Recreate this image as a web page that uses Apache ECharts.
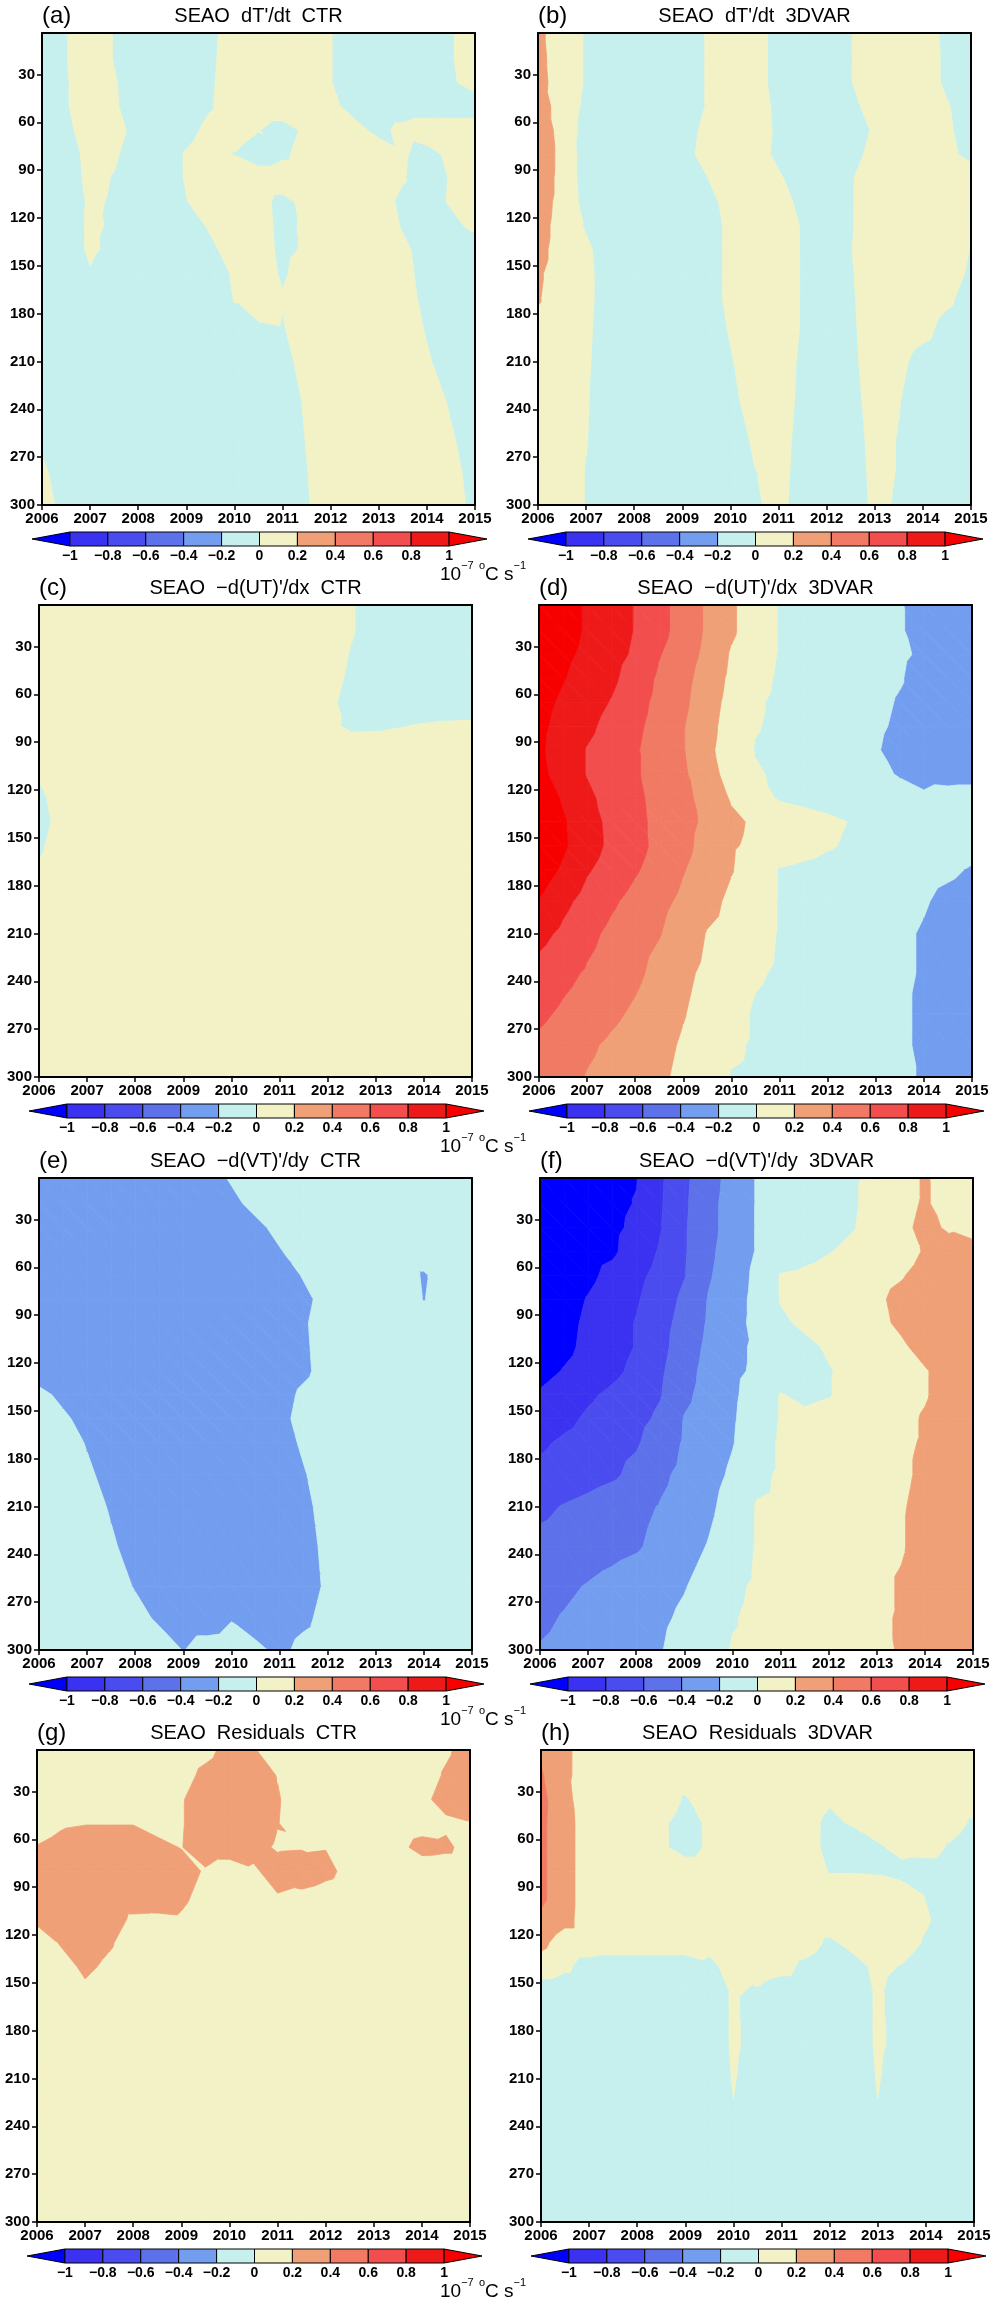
<!DOCTYPE html>
<html>
<head>
<meta charset="utf-8">
<title>SEAO temperature budget</title>
<script src="https://cdn.jsdelivr.net/npm/echarts@6/dist/echarts.min.js"></script>
<style>
  html, body { margin: 0; padding: 0; background: #fff; }
  #chart { width: 996px; height: 2300px; }
</style>
</head>
<body>
<div id="chart"></div>
<script>
// grid of the fields: time (years) x depth (m)
var years = [2006, 2006.5, 2007, 2007.5, 2008, 2008.5, 2009, 2009.5, 2010, 2010.5, 2011, 2011.5, 2012, 2012.5, 2013, 2013.5, 2014, 2014.5, 2015];
var depths = [4, 20, 35, 50, 65, 80, 95, 110, 125, 140, 155, 170, 190, 210, 235, 260, 280, 300];
var depthTicks = [30, 60, 90, 120, 150, 180, 210, 240, 270, 300];

// contour levels (10^-7 degC/s) and fill colours (below -1 ... above 1)
var levels = [-1, -0.8, -0.6, -0.4, -0.2, 0, 0.2, 0.4, 0.6, 0.8, 1];
var bandColors = ['#0000ff', '#3a32f0', '#4a4cef', '#5d72ea', '#739ef0', '#c6f0ee', '#f2f2c6', '#f0a076', '#f07a64', '#f24e4e', '#ee1a1a', '#f70000'];

// (a) dT'/dt CTR, rows = depths, columns = years
var dTdtCTR = [
  [-.15,-.01,.14,-.01,-.15,-.15,-.15,-.05,.1,.15,.15,.15,.01,-.14,-.15,-.15,-.15,-.02,.13],
  [-.15,-.01,.14,-.01,-.15,-.15,-.15,-.04,.11,.15,.15,.15,.01,-.15,-.15,-.15,-.15,-.02,.13],
  [-.15,-.02,.14,.02,-.13,-.15,-.15,-.03,.12,.15,.15,.15,.01,-.15,-.15,-.15,-.15,-.04,.11],
  [-.15,-.02,.14,.03,-.12,-.15,-.15,-.02,.13,.15,.15,.15,.06,-.09,-.15,-.15,-.15,-.15,-.15],
  [-.15,-.05,.1,.08,-.08,-.15,-.08,.07,.14,.01,-.1,.05,.15,.08,-.07,.07,.15,.15,.15],
  [-.15,-.09,.06,.03,-.12,-.13,.02,.14,-.01,-.15,-.05,.1,.15,.15,.15,.03,-.09,.06,.15],
  [-.15,-.1,.05,-.01,-.15,-.13,.02,.15,.15,.15,.15,.15,.15,.15,.15,.02,-.13,.02,.15],
  [-.15,-.12,.03,-.02,-.15,-.15,-.01,.14,.15,.08,-.07,.07,.15,.15,.1,-.05,-.12,.03,.15],
  [-.15,-.13,.04,-.03,-.15,-.15,-.12,.03,.15,.09,-.06,.04,.15,.15,.13,-.02,-.15,-.08,.07],
  [-.15,-.14,.04,-.06,-.15,-.15,-.15,-.05,.1,.1,-.05,.03,.15,.15,.15,.05,-.1,-.15,-.15],
  [-.15,-.15,-.02,-.15,-.15,-.15,-.15,-.12,.03,.12,-.03,.1,.15,.15,.15,.07,-.08,-.15,-.15],
  [-.15,-.15,-.15,-.15,-.15,-.15,-.15,-.15,.01,.15,.02,.15,.15,.15,.15,.09,-.06,-.15,-.15],
  [-.15,-.15,-.15,-.15,-.15,-.15,-.15,-.15,-.05,-.05,-.02,.14,.15,.15,.15,.13,-.02,-.15,-.15],
  [-.15,-.15,-.15,-.15,-.15,-.15,-.15,-.15,-.15,-.15,-.07,.08,.15,.15,.15,.15,.03,-.12,-.15],
  [-.15,-.15,-.15,-.15,-.15,-.15,-.15,-.15,-.15,-.15,-.12,.03,.15,.15,.15,.15,.12,-.03,-.15],
  [-.03,-.15,-.15,-.15,-.15,-.15,-.15,-.15,-.15,-.15,-.15,.01,.15,.15,.15,.15,.15,.03,-.12],
  [.04,-.11,-.15,-.15,-.15,-.15,-.15,-.15,-.15,-.15,-.15,-.01,.15,.15,.15,.15,.15,.07,-.08],
  [.08,-.07,-.15,-.15,-.15,-.15,-.15,-.15,-.15,-.15,-.15,-.02,.13,.15,.15,.15,.15,.09,-.06]
];

// (b) dT'/dt 3DVAR
var dTdt3DVAR = [
  [.23,.13,-.02,-.15,-.15,-.15,-.14,.01,.15,.08,-.07,-.15,-.15,-.01,.15,.15,.1,-.05,-.15],
  [.24,.13,-.02,-.15,-.15,-.15,-.14,.01,.15,.08,-.07,-.15,-.15,-.01,.15,.15,.1,-.04,-.15],
  [.25,.13,-.02,-.15,-.15,-.15,-.14,.01,.15,.08,-.07,-.15,-.15,-.01,.15,.15,.11,-.04,-.15],
  [.29,.12,-.04,-.15,-.15,-.15,-.14,.01,.15,.1,-.05,-.15,-.15,-.06,.09,.15,.15,.02,-.13],
  [.34,.12,-.07,-.15,-.15,-.15,-.1,.05,.15,.11,-.04,-.15,-.15,-.12,.03,.15,.15,.04,-.11],
  [.34,.14,-.09,-.15,-.15,-.15,-.08,.07,.15,.1,-.05,-.15,-.15,-.08,.07,.15,.15,.07,-.08],
  [.32,.14,-.09,-.15,-.15,-.15,-.15,-.01,.14,.15,.03,-.12,-.13,-.02,.13,.15,.15,.15,.15],
  [.29,.14,-.07,-.15,-.15,-.15,-.15,-.08,.08,.15,.09,-.06,-.15,-.02,.13,.15,.15,.15,.15],
  [.27,.13,-.02,-.15,-.15,-.15,-.15,-.1,.05,.15,.13,-.02,-.15,-.02,.14,.15,.15,.15,.05],
  [.25,.13,.04,-.11,-.15,-.15,-.15,-.1,.05,.15,.14,-.02,-.14,-.01,.14,.15,.15,.14,-.01],
  [.22,.13,.05,-.1,-.15,-.15,-.15,-.1,.05,.15,.14,-.02,-.14,-.02,.13,.15,.15,.11,-.04],
  [.21,.13,.05,-.1,-.15,-.15,-.15,-.1,.05,.15,.13,-.02,-.14,-.03,.12,.15,.15,.05,-.1],
  [.17,.13,.04,-.11,-.15,-.15,-.15,-.13,.02,.15,.13,-.02,-.15,-.04,.11,.15,.07,-.08,-.15],
  [.15,.13,.03,-.12,-.15,-.15,-.15,-.15,-.02,.13,.11,-.04,-.15,-.05,.1,.06,-.09,-.15,-.15],
  [.15,.13,.02,-.14,-.15,-.15,-.15,-.15,-.06,.09,.1,-.05,-.15,-.07,.08,.01,-.14,-.15,-.15],
  [.15,.13,.01,-.15,-.15,-.15,-.15,-.15,-.12,.03,.08,-.07,-.15,-.09,.06,-.01,-.15,-.15,-.15],
  [.15,.13,-.01,-.15,-.15,-.15,-.15,-.15,-.15,-.01,.07,-.08,-.15,-.1,.05,-.01,-.15,-.15,-.15],
  [.15,.13,-.01,-.15,-.15,-.15,-.15,-.15,-.15,-.03,.06,-.09,-.15,-.11,.04,-.02,-.15,-.15,-.15]
];

// (c) -d(UT)'/dx CTR
var advUCTR = [
  [.15,.15,.15,.15,.15,.15,.15,.15,.15,.15,.15,.15,.15,.02,-.13,-.15,-.15,-.15,-.15],
  [.15,.15,.15,.15,.15,.15,.15,.15,.15,.15,.15,.15,.15,.02,-.13,-.15,-.15,-.15,-.15],
  [.15,.15,.15,.15,.15,.15,.15,.15,.15,.15,.15,.15,.13,-.02,-.15,-.15,-.15,-.15,-.15],
  [.15,.15,.15,.15,.15,.15,.15,.15,.15,.15,.15,.15,.1,-.05,-.15,-.15,-.15,-.15,-.15],
  [.15,.15,.15,.15,.15,.15,.15,.15,.15,.15,.15,.15,.06,-.09,-.15,-.15,-.15,-.15,-.15],
  [.15,.15,.15,.15,.15,.15,.15,.15,.15,.15,.15,.15,.06,-.05,-.04,-.01,.02,.04,.05],
  [.15,.15,.15,.15,.15,.15,.15,.15,.15,.15,.15,.15,.15,.15,.15,.15,.15,.15,.15],
  [.02,.15,.15,.15,.15,.15,.15,.15,.15,.15,.15,.15,.15,.15,.15,.15,.15,.15,.15],
  [-.05,.1,.15,.15,.15,.15,.15,.15,.15,.15,.15,.15,.15,.15,.15,.15,.15,.15,.15],
  [-.08,.08,.15,.15,.15,.15,.15,.15,.15,.15,.15,.15,.15,.15,.15,.15,.15,.15,.15],
  [-.04,.12,.15,.15,.15,.15,.15,.15,.15,.15,.15,.15,.15,.15,.15,.15,.15,.15,.15],
  [.03,.15,.15,.15,.15,.15,.15,.15,.15,.15,.15,.15,.15,.15,.15,.15,.15,.15,.15],
  [.15,.15,.15,.15,.15,.15,.15,.15,.15,.15,.15,.15,.15,.15,.15,.15,.15,.15,.15],
  [.15,.15,.15,.15,.15,.15,.15,.15,.15,.15,.15,.15,.15,.15,.15,.15,.15,.15,.15],
  [.15,.15,.15,.15,.15,.15,.15,.15,.15,.15,.15,.15,.15,.15,.15,.15,.15,.15,.15],
  [.15,.15,.15,.15,.15,.15,.15,.15,.15,.15,.15,.15,.15,.15,.15,.15,.15,.15,.15],
  [.15,.15,.15,.15,.15,.15,.15,.15,.15,.15,.15,.15,.15,.15,.15,.15,.15,.15,.15],
  [.15,.15,.15,.15,.15,.15,.15,.15,.15,.15,.15,.15,.15,.15,.15,.15,.15,.15,.15]
];

// (d) -d(UT)'/dx 3DVAR
var advU3DVAR = [
  [1.16,1.07,.98,.89,.79,.66,.52,.37,.23,.09,-.01,-.05,-.08,-.12,-.16,-.19,-.25,-.27,-.28],
  [1.16,1.07,.98,.89,.79,.66,.52,.37,.23,.09,-.01,-.05,-.08,-.12,-.15,-.19,-.24,-.27,-.28],
  [1.13,1.04,.96,.87,.77,.61,.49,.35,.18,.07,-.01,-.05,-.08,-.11,-.15,-.18,-.22,-.26,-.28],
  [1.1,1.01,.92,.84,.71,.57,.46,.31,.16,.05,-.02,-.05,-.09,-.12,-.16,-.19,-.25,-.27,-.28],
  [1.06,.97,.88,.79,.67,.55,.44,.28,.14,.02,-.03,-.06,-.1,-.13,-.17,-.21,-.25,-.27,-.28],
  [1.04,.94,.84,.74,.64,.53,.41,.26,.12,.01,-.03,-.07,-.11,-.14,-.18,-.22,-.26,-.27,-.28],
  [1.03,.91,.79,.71,.62,.51,.41,.24,.11,-.01,-.04,-.08,-.11,-.15,-.19,-.24,-.27,-.28,-.28],
  [1.05,.92,.79,.71,.62,.53,.43,.27,.13,.02,-.03,-.06,-.1,-.13,-.17,-.21,-.24,-.25,-.25],
  [1.11,.98,.84,.73,.64,.54,.45,.33,.18,.08,-.02,-.05,-.08,-.1,-.12,-.15,-.18,-.15,-.14],
  [1.16,1.02,.88,.75,.65,.55,.46,.36,.24,.17,.12,.08,.04,-.01,-.05,-.08,-.1,-.12,-.14],
  [1.18,1.03,.88,.76,.66,.55,.45,.33,.22,.16,.11,.07,.02,-.03,-.06,-.09,-.11,-.13,-.16],
  [1.11,.97,.82,.72,.62,.52,.41,.31,.21,.1,-.01,-.04,-.07,-.1,-.12,-.14,-.16,-.18,-.21],
  [.99,.85,.73,.63,.54,.45,.36,.26,.16,.08,-.01,-.03,-.07,-.1,-.13,-.16,-.19,-.23,-.25],
  [.86,.76,.65,.56,.48,.41,.3,.19,.13,.06,-.01,-.04,-.07,-.11,-.15,-.18,-.21,-.25,-.27],
  [.73,.65,.58,.51,.44,.34,.24,.16,.09,.02,-.02,-.05,-.08,-.12,-.15,-.18,-.21,-.25,-.27],
  [.64,.57,.51,.44,.37,.28,.21,.13,.06,-.02,-.05,-.07,-.1,-.13,-.16,-.18,-.22,-.25,-.27],
  [.56,.5,.43,.37,.31,.25,.18,.11,.03,-.02,-.05,-.08,-.11,-.13,-.16,-.18,-.22,-.25,-.27],
  [.5,.45,.39,.34,.28,.23,.16,.07,-.01,-.03,-.05,-.08,-.1,-.13,-.15,-.18,-.21,-.24,-.26]
];

// (e) -d(VT)'/dy CTR
var advVCTR = [
  [-.35,-.35,-.35,-.35,-.35,-.35,-.35,-.32,-.17,-.05,-.05,-.05,-.05,-.05,-.05,-.05,-.05,-.05,-.05],
  [-.35,-.35,-.35,-.35,-.35,-.35,-.35,-.35,-.27,-.12,-.05,-.05,-.05,-.05,-.05,-.05,-.05,-.05,-.05],
  [-.35,-.35,-.35,-.35,-.35,-.35,-.35,-.35,-.35,-.27,-.12,-.05,-.05,-.05,-.05,-.05,-.05,-.05,-.05],
  [-.35,-.35,-.35,-.35,-.35,-.35,-.35,-.35,-.35,-.35,-.22,-.07,-.05,-.05,-.05,-.05,-.05,-.05,-.05],
  [-.35,-.35,-.35,-.35,-.35,-.35,-.35,-.35,-.35,-.35,-.33,-.18,-.05,-.05,-.05,-.05,-.23,-.05,-.05],
  [-.35,-.35,-.35,-.35,-.35,-.35,-.35,-.35,-.35,-.35,-.35,-.26,-.11,-.05,-.05,-.05,-.21,-.05,-.05],
  [-.35,-.35,-.35,-.35,-.35,-.35,-.35,-.35,-.35,-.35,-.35,-.23,-.08,-.05,-.05,-.05,-.05,-.05,-.05],
  [-.35,-.35,-.35,-.35,-.35,-.35,-.35,-.35,-.35,-.35,-.35,-.24,-.09,-.05,-.05,-.05,-.05,-.05,-.05],
  [-.35,-.35,-.35,-.35,-.35,-.35,-.35,-.35,-.35,-.35,-.35,-.25,-.1,-.05,-.05,-.05,-.05,-.05,-.05],
  [-.12,-.27,-.35,-.35,-.35,-.35,-.35,-.35,-.35,-.35,-.3,-.15,-.05,-.05,-.05,-.05,-.05,-.05,-.05],
  [-.05,-.15,-.3,-.35,-.35,-.35,-.35,-.35,-.35,-.35,-.27,-.12,-.05,-.05,-.05,-.05,-.05,-.05,-.05],
  [-.05,-.07,-.22,-.35,-.35,-.35,-.35,-.35,-.35,-.35,-.31,-.16,-.05,-.05,-.05,-.05,-.05,-.05,-.05],
  [-.05,-.05,-.15,-.3,-.35,-.35,-.35,-.35,-.35,-.35,-.35,-.22,-.07,-.05,-.05,-.05,-.05,-.05,-.05],
  [-.05,-.05,-.08,-.23,-.35,-.35,-.35,-.35,-.35,-.35,-.35,-.26,-.11,-.05,-.05,-.05,-.05,-.05,-.05],
  [-.05,-.05,-.05,-.16,-.31,-.35,-.35,-.35,-.35,-.35,-.35,-.29,-.14,-.05,-.05,-.05,-.05,-.05,-.05],
  [-.05,-.05,-.05,-.07,-.22,-.35,-.35,-.35,-.35,-.35,-.35,-.31,-.16,-.05,-.05,-.05,-.05,-.05,-.05],
  [-.05,-.05,-.05,-.05,-.1,-.25,-.35,-.35,-.22,-.35,-.35,-.26,-.11,-.05,-.05,-.05,-.05,-.05,-.05],
  [-.05,-.05,-.05,-.05,-.05,-.05,-.21,-.08,-.05,-.13,-.27,-.12,-.05,-.05,-.05,-.05,-.05,-.05,-.05]
];

// (f) -d(VT)'/dy 3DVAR
var advV3DVAR = [
  [-1.15,-1.12,-1.08,-1.05,-1.01,-.83,-.64,-.48,-.33,-.19,-.15,-.11,-.06,-.02,.04,.12,.22,.12,.1],
  [-1.15,-1.12,-1.08,-1.05,-.99,-.82,-.63,-.46,-.32,-.19,-.15,-.11,-.06,-.02,.06,.14,.22,.13,.1],
  [-1.15,-1.12,-1.08,-1.04,-.96,-.81,-.62,-.46,-.32,-.19,-.15,-.1,-.06,-.01,.07,.16,.24,.18,.12],
  [-1.15,-1.12,-1.07,-1.03,-.91,-.78,-.62,-.44,-.31,-.19,-.13,-.07,-.01,.04,.1,.15,.21,.26,.28],
  [-1.15,-1.1,-1.04,-.95,-.85,-.74,-.61,-.42,-.3,-.16,.01,.04,.08,.12,.16,.19,.24,.27,.29],
  [-1.12,-1.07,-.99,-.91,-.82,-.7,-.56,-.39,-.28,-.15,.01,.05,.1,.14,.18,.23,.27,.29,.3],
  [-1.1,-1.05,-.97,-.88,-.79,-.67,-.53,-.38,-.27,-.15,-.03,.03,.08,.12,.17,.22,.26,.29,.3],
  [-1.1,-1.04,-.96,-.88,-.79,-.66,-.5,-.36,-.25,-.17,-.11,-.04,.02,.07,.13,.18,.24,.28,.3],
  [-1.06,-.99,-.93,-.85,-.75,-.63,-.47,-.34,-.24,-.17,-.12,-.06,-.01,.04,.09,.15,.19,.25,.28],
  [-.98,-.91,-.83,-.76,-.68,-.61,-.44,-.33,-.23,-.12,.01,-.04,-.01,.06,.11,.16,.19,.25,.28],
  [-.92,-.85,-.77,-.71,-.65,-.57,-.39,-.31,-.22,-.1,.01,.04,.07,.1,.14,.17,.21,.26,.28],
  [-.83,-.77,-.72,-.67,-.62,-.51,-.38,-.3,-.21,-.08,.02,.06,.09,.13,.16,.18,.21,.25,.28],
  [-.75,-.71,-.67,-.63,-.55,-.44,-.35,-.27,-.17,-.04,.02,.05,.09,.12,.15,.18,.22,.26,.28],
  [-.64,-.59,-.55,-.5,-.45,-.39,-.32,-.24,-.12,.01,.03,.06,.1,.13,.16,.19,.23,.26,.28],
  [-.55,-.52,-.48,-.45,-.42,-.35,-.27,-.19,-.08,.01,.04,.08,.11,.14,.17,.19,.24,.27,.28],
  [-.46,-.43,-.39,-.35,-.31,-.26,-.21,-.13,-.03,.02,.05,.08,.11,.14,.17,.21,.25,.27,.28],
  [-.43,-.39,-.35,-.31,-.27,-.23,-.17,-.09,-.01,.03,.06,.09,.12,.15,.18,.21,.25,.27,.28],
  [-.39,-.36,-.32,-.28,-.24,-.21,-.13,-.06,.01,.03,.06,.1,.12,.14,.17,.21,.25,.27,.28]
];

// (g) Residuals CTR
var residCTR = [
  [.05,.05,.05,.05,.05,.05,.05,.13,.28,.22,.07,.05,.05,.05,.05,.05,.05,.16,.31],
  [.05,.05,.05,.05,.05,.05,.11,.26,.35,.34,.19,.05,.05,.05,.05,.05,.08,.23,.35],
  [.05,.05,.05,.05,.05,.05,.18,.33,.35,.35,.22,.07,.05,.05,.05,.05,.14,.29,.35],
  [.1,.17,.19,.19,.19,.12,.18,.34,.35,.35,.21,.06,.05,.05,.05,.05,.1,.15,.19],
  [.21,.27,.32,.33,.33,.26,.19,.35,.35,.28,.17,.18,.19,.1,.05,.13,.28,.25,.1],
  [.35,.35,.35,.35,.35,.35,.32,.17,.05,.16,.31,.35,.27,.12,.05,.05,.05,.05,.05],
  [.35,.35,.35,.35,.35,.35,.26,.11,.05,.05,.19,.15,.1,.05,.05,.05,.05,.05,.05],
  [.25,.33,.35,.31,.16,.15,.17,.05,.05,.05,.05,.05,.05,.05,.05,.05,.05,.05,.05],
  [.07,.22,.32,.23,.08,.05,.05,.05,.05,.05,.05,.05,.05,.05,.05,.05,.05,.05,.05],
  [.05,.1,.25,.15,.05,.05,.05,.05,.05,.05,.05,.05,.05,.05,.05,.05,.05,.05,.05],
  [.05,.05,.15,.05,.05,.05,.05,.05,.05,.05,.05,.05,.05,.05,.05,.05,.05,.05,.05],
  [.05,.05,.05,.05,.05,.05,.05,.05,.05,.05,.05,.05,.05,.05,.05,.05,.05,.05,.05],
  [.05,.05,.05,.05,.05,.05,.05,.05,.05,.05,.05,.05,.05,.05,.05,.05,.05,.05,.05],
  [.05,.05,.05,.05,.05,.05,.05,.05,.05,.05,.05,.05,.05,.05,.05,.05,.05,.05,.05],
  [.05,.05,.05,.05,.05,.05,.05,.05,.05,.05,.05,.05,.05,.05,.05,.05,.05,.05,.05],
  [.05,.05,.05,.05,.05,.05,.05,.05,.05,.05,.05,.05,.05,.05,.05,.05,.05,.05,.05],
  [.05,.05,.05,.05,.05,.05,.05,.05,.05,.05,.05,.05,.05,.05,.05,.05,.05,.05,.05],
  [.05,.05,.05,.05,.05,.05,.05,.05,.05,.05,.05,.05,.05,.05,.05,.05,.05,.05,.05]
];

// (h) Residuals 3DVAR
var resid3DVAR = [
  [.36,.24,.1,.1,.1,.1,.1,.1,.1,.1,.1,.1,.1,.1,.1,.1,.1,.1,.1],
  [.42,.24,.1,.1,.1,.1,.1,.1,.1,.1,.1,.1,.1,.1,.1,.1,.1,.1,.1],
  [.45,.26,.07,.1,.1,.1,-.02,.1,.1,.1,.1,.1,.02,.1,.1,.1,.1,.1,.1],
  [.44,.27,.1,.1,.1,.03,-.07,.03,.1,.1,.1,.06,-.04,.02,.1,.1,.1,.07,-.03],
  [.44,.27,.1,.1,.1,.03,-.07,.03,.1,.1,.1,.06,-.04,-.1,-.03,.07,.08,-.02,-.1],
  [.44,.27,.1,.1,.1,.1,.1,.1,.1,.1,.1,.1,-.01,-.01,-.02,-.07,-.1,-.1,-.1],
  [.44,.27,.1,.1,.1,.1,.1,.1,.1,.1,.1,.1,.1,.1,.1,.1,-.01,-.1,-.1],
  [.37,.26,.1,.1,.1,.1,.1,.1,.1,.1,.1,.1,.1,.1,.1,.1,.02,-.08,-.1],
  [.25,.1,.1,.1,.1,.1,.1,.05,.1,.1,.1,.07,-.03,.05,.1,.08,-.02,-.1,-.1],
  [.1,.03,-.07,-.1,-.1,-.1,-.1,-.04,.06,.1,.06,-.04,-.1,-.06,.04,-.01,-.1,-.1,-.1],
  [-.1,-.1,-.1,-.1,-.1,-.1,-.1,-.09,.02,-.02,-.1,-.1,-.1,-.08,.02,-.06,-.1,-.1,-.1],
  [-.1,-.1,-.1,-.1,-.1,-.1,-.1,-.09,.02,-.06,-.1,-.1,-.1,-.08,.02,-.05,-.1,-.1,-.1],
  [-.1,-.1,-.1,-.1,-.1,-.1,-.1,-.09,.02,-.05,-.1,-.1,-.1,-.09,.02,-.04,-.1,-.1,-.1],
  [-.1,-.1,-.1,-.1,-.1,-.1,-.1,-.1,.01,-.07,-.1,-.1,-.1,-.1,.01,-.07,-.1,-.1,-.1],
  [-.1,-.1,-.1,-.1,-.1,-.1,-.1,-.1,-.01,-.1,-.1,-.1,-.1,-.1,-.01,-.1,-.1,-.1,-.1],
  [-.1,-.1,-.1,-.1,-.1,-.1,-.1,-.1,-.1,-.1,-.1,-.1,-.1,-.1,-.1,-.1,-.1,-.1,-.1],
  [-.1,-.1,-.1,-.1,-.1,-.1,-.1,-.1,-.1,-.1,-.1,-.1,-.1,-.1,-.1,-.1,-.1,-.1,-.1],
  [-.1,-.1,-.1,-.1,-.1,-.1,-.1,-.1,-.1,-.1,-.1,-.1,-.1,-.1,-.1,-.1,-.1,-.1,-.1]
];

var panelLabels = ['(a)', '(b)', '(c)', '(d)', '(e)', '(f)', '(g)', '(h)'];
var panelTitles = [
  "SEAO  dT'/dt  CTR", "SEAO  dT'/dt  3DVAR",
  "SEAO  \u2212d(UT)'/dx  CTR", "SEAO  \u2212d(UT)'/dx  3DVAR",
  "SEAO  \u2212d(VT)'/dy  CTR", "SEAO  \u2212d(VT)'/dy  3DVAR",
  "SEAO  Residuals  CTR", "SEAO  Residuals  3DVAR"
];
var panelFields = [dTdtCTR, dTdt3DVAR, advUCTR, advU3DVAR, advVCTR, advV3DVAR, residCTR, resid3DVAR];

// page layout
var FONT = '"Liberation Sans", Arial, Helvetica, sans-serif';
var rowBottom = [505, 1077, 1650, 2222];
var colLeft = [[42, 538], [39, 539], [39, 540], [37, 541]];
var plotW = 433, plotH = 472;

// clip a polygon (points [x, y, value]) to value >= lev (above) or value <= lev
function clipPoly(poly, lev, above) {
  var out = [];
  for (var k = 0; k < poly.length; k++) {
    var a = poly[k], b = poly[(k + 1) % poly.length];
    var ina = above ? a[2] >= lev : a[2] <= lev;
    var inb = above ? b[2] >= lev : b[2] <= lev;
    if (ina) out.push(a);
    if (ina !== inb) {
      var t = (lev - a[2]) / (b[2] - a[2]);
      out.push([a[0] + t * (b[0] - a[0]), a[1] + t * (b[1] - a[1]), lev]);
    }
  }
  return out;
}

// filled contours: each grid cell split into two triangles, linear interpolation
function contourRender(field) {
  return function (params, api) {
    var i = api.value(2), j = api.value(3);
    var tris = [
      [[i, j], [i + 1, j], [i + 1, j + 1]],
      [[i, j], [i + 1, j + 1], [i, j + 1]]
    ];
    var children = [];
    tris.forEach(function (t) {
      var tri = t.map(function (n) { return [years[n[0]], depths[n[1]], field[n[1]][n[0]]]; });
      for (var b = 0; b < bandColors.length; b++) {
        var p = tri;
        if (b > 0) p = clipPoly(p, levels[b - 1], true);
        if (p.length >= 3 && b < levels.length) p = clipPoly(p, levels[b], false);
        if (p.length < 3) continue;
        var pts = p.map(function (q) { return api.coord([q[0], q[1]]); });
        children.push({
          type: 'polygon',
          shape: { points: pts },
          style: { fill: bandColors[b], stroke: bandColors[b], lineWidth: 0.8 }
        });
      }
    });
    return { type: 'group', children: children };
  };
}

// colour bar boxes, triangles at both ends
function colorbarRender(params, api) {
  var k = api.value(0);
  var last = levels.length;
  var lo = k === 0 ? -1.2 : levels[k - 1];
  var hi = k === last ? 1.2 : levels[k];
  var a = api.coord([lo, 1]), b = api.coord([hi, 0]);
  var mid = (a[1] + b[1]) / 2;
  var pts;
  if (k === 0) pts = [[a[0], mid], [b[0], a[1]], [b[0], b[1]]];
  else if (k === last) pts = [[a[0], a[1]], [b[0], mid], [a[0], b[1]]];
  else pts = [[a[0], a[1]], [b[0], a[1]], [b[0], b[1]], [a[0], b[1]]];
  return {
    type: 'polygon',
    shape: { points: pts },
    style: { fill: bandColors[k], stroke: '#000', lineWidth: 1 }
  };
}

function frameLine() { return { show: true, onZero: false, lineStyle: { color: '#000', width: 2 } }; }

function buildOption() {
  var cellData = [];
  for (var j = 0; j < depths.length - 1; j++) {
    for (var i = 0; i < years.length - 1; i++) {
      cellData.push([years[i], depths[j], i, j]);
    }
  }
  var barData = bandColors.map(function (c, k) { return [k]; });
  var grids = [], xAxes = [], yAxes = [], series = [], graphics = [];

  for (var p = 0; p < 8; p++) {
    var r = Math.floor(p / 2), c = p % 2;
    var panelLeft = colLeft[r][c], panelBottom = rowBottom[r], panelTop = panelBottom - plotH;

    var g = grids.length;
    grids.push({ left: panelLeft, top: panelTop, width: plotW, height: plotH });
    var xi = xAxes.length, yi = yAxes.length;
    xAxes.push({
      gridIndex: g, type: 'value', position: 'bottom', min: 2006, max: 2015, interval: 1, z: 10,
      axisLine: frameLine(),
      axisTick: { show: true, length: 5, lineStyle: { color: '#000', width: 1.5 } },
      axisLabel: {
        color: '#000', fontSize: 15, fontWeight: 'bold', fontFamily: FONT, margin: 6,
        formatter: function (v) { return String(v); }
      },
      splitLine: { show: false }
    });
    xAxes.push({
      gridIndex: g, type: 'value', position: 'top', min: 2006, max: 2015, z: 10,
      axisLine: frameLine(), axisTick: { show: false }, axisLabel: { show: false }, splitLine: { show: false }
    });
    yAxes.push({
      gridIndex: g, type: 'value', position: 'left', inverse: true, min: 4, max: 300, z: 10,
      axisLine: frameLine(),
      axisTick: { show: true, length: 5, customValues: depthTicks, lineStyle: { color: '#000', width: 1.5 } },
      axisLabel: { color: '#000', fontSize: 15, fontWeight: 'bold', fontFamily: FONT, margin: 7, customValues: depthTicks },
      splitLine: { show: false }
    });
    yAxes.push({
      gridIndex: g, type: 'value', position: 'right', inverse: true, min: 4, max: 300, z: 10,
      axisLine: frameLine(), axisTick: { show: false }, axisLabel: { show: false }, splitLine: { show: false }
    });
    series.push({
      type: 'custom', xAxisIndex: xi, yAxisIndex: yi, silent: true, clip: true,
      renderItem: contourRender(panelFields[p]), data: cellData
    });

    // colour bar under the panel
    var gb = grids.length;
    grids.push({ left: panelLeft - 10, top: panelBottom + 27, width: 455, height: 14 });
    var xb = xAxes.length, yb = yAxes.length;
    xAxes.push({
      gridIndex: gb, type: 'value', min: -1.2, max: 1.2,
      axisLine: { show: false }, axisTick: { show: false }, splitLine: { show: false },
      axisLabel: {
        customValues: levels, color: '#000', fontSize: 14, fontWeight: 'bold', fontFamily: FONT, margin: 3,
        formatter: function (v) {
          var s = String(Math.abs(Math.round(v * 10) / 10));
          return v < -1e-9 ? '\u2212' + s : s;
        }
      }
    });
    yAxes.push({ gridIndex: gb, type: 'value', min: 0, max: 1, show: false });
    series.push({
      type: 'custom', xAxisIndex: xb, yAxisIndex: yb, silent: true,
      renderItem: colorbarRender, data: barData
    });

    graphics.push({
      id: 'lab' + p, type: 'text', x: panelLeft, y: panelTop - 17,
      style: { text: panelLabels[p], fill: '#000', fontSize: 24, fontFamily: FONT, align: 'left', verticalAlign: 'middle' }
    });
    graphics.push({
      id: 'tit' + p, type: 'text', x: panelLeft + plotW / 2, y: panelTop - 17,
      style: { text: panelTitles[p], fill: '#000', fontSize: 20, fontFamily: FONT, align: 'center', verticalAlign: 'middle' }
    });
  }

  // units, one per row between the two colour bars
  for (var r2 = 0; r2 < 4; r2++) {
    graphics.push({
      id: 'unit' + r2, type: 'text', x: 440, y: rowBottom[r2] + 67,
      style: {
        text: '{n|10}{s|\u22127}{n| }{s|o}{n|C s}{s|\u22121}',
        align: 'left', verticalAlign: 'middle',
        rich: {
          n: { fontSize: 19, fontFamily: FONT, fill: '#000', lineHeight: 24, verticalAlign: 'bottom' },
          s: { fontSize: 11, fontFamily: FONT, fill: '#000', verticalAlign: 'top' }
        }
      }
    });
  }

  return {
    backgroundColor: '#fff',
    animation: false,
    grid: grids, xAxis: xAxes, yAxis: yAxes, series: series, graphic: graphics
  };
}

var chart = echarts.init(document.getElementById('chart'));
chart.setOption(buildOption());
</script>
</body>
</html>
